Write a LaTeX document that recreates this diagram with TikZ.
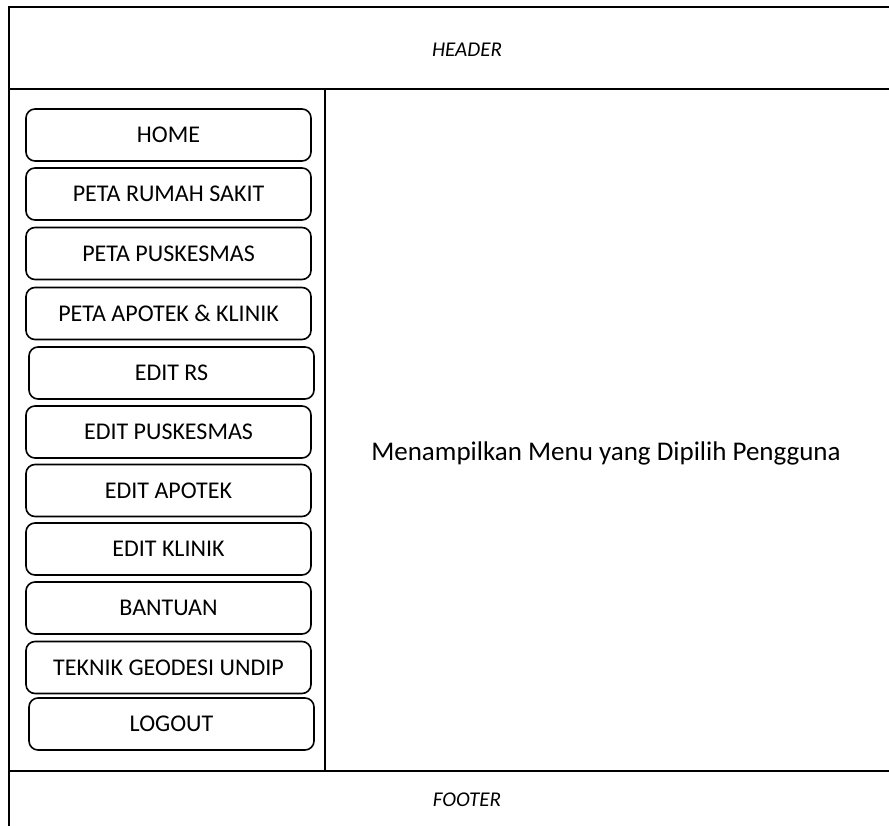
\documentclass[tikz,border=0pt]{standalone}
\usepackage{fontspec}
\setmainfont{Carlito}
\begin{document}
\begin{tikzpicture}[x=1pt,y=-1pt,
  frame/.style={line width=1.6pt, black},
  menubtn/.style={draw, line width=1.6pt, rounded corners=9pt,
    minimum width=285pt, minimum height=52pt, inner sep=0pt,
    font=\fontsize{24}{28}\selectfont},
  lbl/.style={font=\fontsize{21}{24}\selectfont\itshape},
  body/.style={font=\fontsize{27}{31}\selectfont}]
  \useasboundingbox (0,0) rectangle (889,826);
  % page frame: header, sidebar, footer
  \coordinate (tl) at (9,7);
  \coordinate (tr) at (889,7);
  \coordinate (bl) at (9,826);
  \coordinate (hl) at (9,89);
  \coordinate (hr) at (889,89);
  \coordinate (st) at (325,89);
  \coordinate (sb) at (325,771);
  \coordinate (fl) at (9,771);
  \coordinate (fr) at (889,771);
  \draw[frame] (tr) -- (tl) -- (bl);
  \draw[frame] (hl) -- (hr);
  \draw[frame] (st) -- (sb);
  \draw[frame] (fl) -- (fr);
  \node[lbl] (header) at (467,50) {HEADER};
  \node[lbl] (footer) at (467,800) {FOOTER};
  % sidebar menu
  \node[menubtn] (home)   at (168.5,135) {HOME};
  \node[menubtn] (rs)     at (168.5,194) {PETA RUMAH SAKIT};
  \node[menubtn] (pusk)   at (168.5,253.5) {PETA PUSKESMAS};
  \node[menubtn] (apotek) at (168.5,313.5) {PETA APOTEK \& KLINIK};
  \node[menubtn] (editrs) at (171.5,373) {EDIT RS};
  \node[menubtn] (editpk) at (168.5,432) {EDIT PUSKESMAS};
  \node[menubtn] (editap) at (168.5,490.5) {EDIT APOTEK};
  \node[menubtn] (editkl) at (168.5,549) {EDIT KLINIK};
  \node[menubtn] (bantu)  at (168.5,608) {BANTUAN};
  \node[menubtn] (teknik) at (168.5,667.5) {TEKNIK GEODESI UNDIP};
  \node[menubtn] (logout) at (171.5,724) {LOGOUT};
  % content area
  \node[body] (content) at (606,453) {Menampilkan Menu yang Dipilih Pengguna};
\end{tikzpicture}
\end{document}
